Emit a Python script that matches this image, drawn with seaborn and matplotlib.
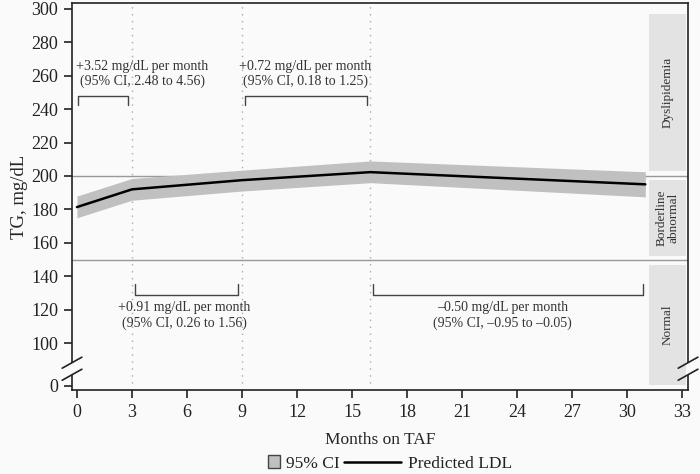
import matplotlib
matplotlib.use("Agg")
import matplotlib.pyplot as plt
import seaborn as sns
import pandas as pd
from matplotlib.patches import Rectangle, Patch
from matplotlib.lines import Line2D
import matplotlib.transforms as mtransforms

# data
months = [0, 3, 9, 16, 31]
pred_tg = [181.4, 192.0, 197.5, 202.3, 195.0]
ci_low = [175.0, 185.5, 191.0, 196.0, 187.5]
ci_high = [188.0, 198.5, 203.5, 209.0, 202.5]
knots = [3, 9, 16]

x_ticks = [0, 3, 6, 9, 12, 15, 18, 21, 24, 27, 30, 33]
y_ticks = [100, 120, 140, 160, 180, 200, 220, 240, 260, 280, 300]
fake_zero = 74.4  # position where the broken axis shows "0"

zones = ["Dyslipidemia", "Borderline\nabnormal", "Normal"]
zone_bounds = [(203, 297), (152, 197.5), (75, 147)]
thresholds = [200, 150]

annot_text = [
    "+3.52 mg/dL per month\n(95% CI, 2.48 to 4.56)",
    "+0.72 mg/dL per month\n(95% CI, 0.18 to 1.25)",
    "+0.91 mg/dL per month\n(95% CI, 0.26 to 1.56)",
    "\u20130.50 mg/dL per month\n(95% CI, \u20130.95 to \u20130.05)",
]
annot_x = [3.55, 12.47, 5.84, 23.2]
annot_y = [261, 261, 116.5, 116.5]
brackets = [(0.05, 2.8, 248, 242.5), (9.17, 15.8, 248, 242.5),
            (3.16, 8.78, 128.7, 135.3), (16.15, 30.9, 128.7, 135.3)]

df = pd.DataFrame({"month": months, "tg": pred_tg, "lo": ci_low, "hi": ci_high})

sns.set_style("ticks")
plt.rcParams["font.family"] = ["Liberation Serif", "DejaVu Serif"]
plt.rcParams["text.color"] = "#222222"

fig = plt.figure(figsize=(7, 4.74), dpi=100, facecolor="#fafafa")
ax = fig.add_axes([0.1029, 0.177, 0.88, 0.8167])
ax.set_facecolor("#fafafa")

ax.set_xlim(-0.27, 33.33)
ax.set_ylim(71.9, 303.5)

# reference zones on the right
for label, (lo, hi) in zip(zones, zone_bounds):
    ax.add_patch(Rectangle((31.2, lo), 2.0, hi - lo, facecolor="#e3e3e3",
                           edgecolor="none", zorder=1))
    ax.text(32.2, (lo + hi) / 2, label, rotation=90, ha="center", va="center",
            fontsize=9.5, color="#333333", linespacing=1.0, zorder=2)

for t in thresholds:
    ax.axhline(t, color="#999999", lw=1.0, zorder=2)

for k in knots:
    ax.axvline(k, color="#aaaaaa", lw=1.0, ls=(0, (1, 4)), zorder=1)

ax.fill_between(df["month"], df["lo"], df["hi"], color="#c0c0c0", lw=0, zorder=3)
sns.lineplot(data=df, x="month", y="tg", color="black", lw=1.8, ax=ax, zorder=4)

# slope annotations with brackets
for txt, x, y in zip(annot_text, annot_x, annot_y):
    ax.text(x, y, txt, ha="center", va="center", fontsize=10, color="#333333",
            linespacing=1.2, zorder=5)
for x0, x1, yb, ye in brackets:
    ax.plot([x0, x0, x1, x1], [ye, yb, yb, ye], color="#444444", lw=1.0, zorder=5)

ax.set_xticks(x_ticks)
ax.set_yticks([fake_zero] + y_ticks)
ax.set_yticklabels(["0"] + [str(v) for v in y_ticks])
ax.tick_params(labelsize=13, length=6, pad=4, colors="#222222", width=1.2)
for s in ax.spines.values():
    s.set_linewidth(1.2)
    s.set_color("#222222")

# axis break marks
tr = mtransforms.blended_transform_factory(ax.transAxes, ax.transData)
for xa in (0.0, 1.0):
    ax.add_patch(Rectangle((xa - 0.004, 81.1), 0.008, 7.2, transform=tr,
                           facecolor="#fafafa", edgecolor="none", clip_on=False, zorder=6))
    for y0 in (85.0, 77.8):
        ax.plot([xa - 0.016, xa + 0.016], [y0, y0 + 6.6], color="#222222", lw=1.2,
                transform=tr, clip_on=False, zorder=7)

ax.set_xlabel("Months on TAF", fontsize=12.5, labelpad=8)
ax.set_ylabel("TG, mg/dL", fontsize=13.5)
ax.yaxis.set_label_coords(-0.071, 0.5)

# legend: small square for the band, long stroke for the line
fig.legend(handles=[Patch(facecolor="#c0c0c0", edgecolor="#444444", label="95% CI")],
           loc="center left", bbox_to_anchor=(268 / 700, 0.022), frameon=False,
           fontsize=12.5, handlelength=0.7, handleheight=0.7,
           handletextpad=0.35, borderpad=0, borderaxespad=0)
fig.legend(handles=[Line2D([0], [0], color="black", lw=1.8, label="Predicted LDL")],
           loc="center left", bbox_to_anchor=(344 / 700, 0.022), frameon=False,
           fontsize=12.5, handlelength=3.3, handletextpad=0.4,
           borderpad=0, borderaxespad=0)

sns.despine(ax=ax, top=False, right=False)
fig.savefig("out.png", dpi=100, facecolor=fig.get_facecolor())
